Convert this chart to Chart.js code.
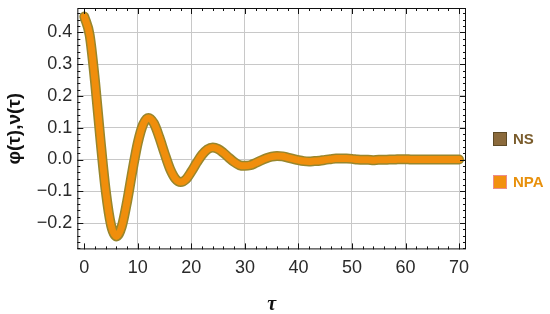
<!DOCTYPE html>
<html>
<head>
<meta charset="utf-8">
<script src="https://cdn.jsdelivr.net/npm/chart.js@4/dist/chart.umd.min.js"></script>
<style>
  html, body { margin: 0; padding: 0; background: #fff; }
  #wrap { width: 550px; height: 314px; position: relative; }
</style>
</head>
<body>
<div id="wrap"><canvas id="myChart"></canvas></div>
<script>
// time axis (tau) and the two solutions
const tauValues = [0,1,2,3,4,5,6,7,8,9,10,11,12,13,14,15,16,17,18,19,20,
  21,22,23,24,25,26,27,28,29,30,31,32,33,34,35,36,37,38,39,40,
  41,42,43,44,45,46,47,48,49,50,51,52,53,54,55,56,57,58,59,60,
  61,62,63,64,65,66,67,68,69,70];
const nsValues = [0.450,0.392,0.246,0.065,-0.098,-0.207,-0.242,-0.211,-0.132,-0.035,0.053,
  0.111,0.131,0.114,0.071,0.019,-0.029,-0.060,-0.071,-0.062,-0.038,
  -0.010,0.015,0.032,0.038,0.033,0.021,0.006,-0.008,-0.018,-0.020,
  -0.018,-0.011,-0.003,0.004,0.009,0.011,0.010,0.006,0.002,-0.002,
  -0.005,-0.006,-0.005,-0.004,-0.001,0.001,0.003,0.003,0.003,0.002,
  0.000,-0.001,-0.001,-0.002,-0.001,-0.001,0.000,0.000,0.001,0.001,
  0.000,0.000,0.000,0.000,0.000,0.000,0.000,0.000,0.000,0.000];
const npaValues = [0.450,0.392,0.246,0.065,-0.098,-0.207,-0.242,-0.211,-0.132,-0.035,0.053,
  0.111,0.131,0.114,0.071,0.019,-0.029,-0.060,-0.071,-0.062,-0.038,
  -0.010,0.015,0.032,0.038,0.033,0.021,0.006,-0.008,-0.018,-0.020,
  -0.018,-0.011,-0.003,0.004,0.009,0.011,0.010,0.006,0.002,-0.002,
  -0.005,-0.006,-0.005,-0.004,-0.001,0.001,0.003,0.003,0.003,0.002,
  0.000,-0.001,-0.001,-0.002,-0.001,-0.001,0.000,0.000,0.001,0.001,
  0.000,0.000,0.000,0.000,0.000,0.000,0.000,0.000,0.000,0.000];
const xTickLabels = [0,10,20,30,40,50,60,70];
const yTickLabels = [-0.2,-0.1,0.0,0.1,0.2,0.3,0.4];
const legendNames = ['NS', 'NPA'];

const toPoints = vals => tauValues.map((t, i) => ({ x: t, y: vals[i] }));

// frame with inward major/minor ticks on all four sides (Mathematica look)
const framePlugin = {
  id: 'frame',
  afterDraw(chart) {
    const { ctx, chartArea: a, scales: { x, y } } = chart;
    ctx.save();
    ctx.strokeStyle = '#111';
    ctx.lineWidth = 1;
    ctx.strokeRect(a.left + 0.5, a.top + 0.5, a.right - a.left - 1, a.bottom - a.top - 1);
    ctx.beginPath();
    for (let v = 0; v <= 70.001; v += 2) {
      const px = Math.round(x.getPixelForValue(v)) + 0.5;
      const len = Math.abs(v % 10) < 1e-6 ? 6 : 3;
      ctx.moveTo(px, a.bottom); ctx.lineTo(px, a.bottom - len);
      ctx.moveTo(px, a.top); ctx.lineTo(px, a.top + len);
    }
    for (let k = -14; k <= 23; k++) {
      const v = k * 0.02;
      const py = Math.round(y.getPixelForValue(v)) + 0.5;
      if (py < a.top || py > a.bottom) continue;
      const len = k % 5 === 0 ? 6 : 3;
      ctx.moveTo(a.left, py); ctx.lineTo(a.left + len, py);
      ctx.moveTo(a.right, py); ctx.lineTo(a.right - len, py);
    }
    ctx.stroke();
    ctx.restore();
  }
};

// legend to the right of the frame, like the Mathematica swatch legend
const swatchLegend = {
  id: 'swatchLegend',
  afterDraw(chart) {
    const { ctx, chartArea: a } = chart;
    const items = [
      { text: legendNames[0], fill: '#8b6a3c', stroke: '#5e4a26', color: '#7a5c2c', dy: -18 },
      { text: legendNames[1], fill: '#f29010', stroke: '#ec8c8c', color: '#e8900c', dy: 25 }
    ];
    const cy = chart.height / 2;
    ctx.save();
    ctx.font = 'bold 15px "Liberation Sans"';
    ctx.textBaseline = 'middle';
    items.forEach(it => {
      const bx = a.right + 27, by = cy + it.dy - 7;
      ctx.fillStyle = it.fill;
      ctx.fillRect(bx, by, 14, 14);
      ctx.strokeStyle = it.stroke;
      ctx.lineWidth = 1;
      ctx.strokeRect(bx + 0.5, by + 0.5, 13, 13);
      ctx.fillStyle = it.color;
      ctx.fillText(it.text, bx + 20, cy + it.dy + 1);
    });
    ctx.restore();
  }
};

const ctx = document.getElementById('myChart').getContext('2d');
new Chart(ctx, {
  type: 'line',
  data: {
    datasets: [{
      label: legendNames[1],
      data: toPoints(npaValues),
      borderColor: '#f08e0c',
      borderWidth: 7,
      borderCapStyle: 'round',
      pointRadius: 0,
      tension: 0.4,
      cubicInterpolationMode: 'monotone'
    }, {
      label: legendNames[0],
      data: toPoints(nsValues),
      borderColor: '#98862c',
      borderWidth: 10,
      borderCapStyle: 'round',
      pointRadius: 0,
      tension: 0.4,
      cubicInterpolationMode: 'monotone'
    }]
  },
  options: {
    responsive: true,
    maintainAspectRatio: false,
    animation: false,
    layout: { padding: { top: 8, left: 3, right: 84, bottom: -3 } },
    scales: {
      x: {
        type: 'linear',
        min: -1.3,
        max: 71.3,
        afterBuildTicks: s => { s.ticks = xTickLabels.map(v => ({ value: v })); },
        ticks: { color: '#2a2a2a', font: { family: 'Liberation Sans', size: 18 }, padding: 8, maxRotation: 0 },
        grid: { color: c => (c.tick && c.tick.value === 0 ? 'rgba(0,0,0,0)' : '#c8c8c8'), drawTicks: false },
        border: { display: false },
        title: { display: true, text: 'τ', color: '#111', font: { family: 'Liberation Serif', size: 20, weight: 'bold', style: 'italic' }, padding: { top: 6, bottom: 0 } }
      },
      y: {
        min: -0.283,
        max: 0.477,
        afterBuildTicks: s => { s.ticks = yTickLabels.map(v => ({ value: v })); },
        afterFit: s => { s.paddingTop = 0; s.paddingBottom = 0; },
        ticks: {
          color: '#2a2a2a', font: { family: 'Liberation Sans', size: 18 }, padding: 5,
          callback: v => (v < 0 ? '\u2212' + Math.abs(v).toFixed(1) : v.toFixed(1))
        },
        grid: { color: '#c8c8c8', drawTicks: false },
        border: { display: false },
        title: { display: true, text: 'φ(τ),ν(τ)', color: '#111', font: { family: 'Liberation Sans', size: 19, weight: 'bold' }, padding: { top: 0, bottom: 6 } }
      }
    },
    plugins: {
      legend: { display: false },
      tooltip: { enabled: false }
    }
  },
  plugins: [framePlugin, swatchLegend]
});
</script>
</body>
</html>
